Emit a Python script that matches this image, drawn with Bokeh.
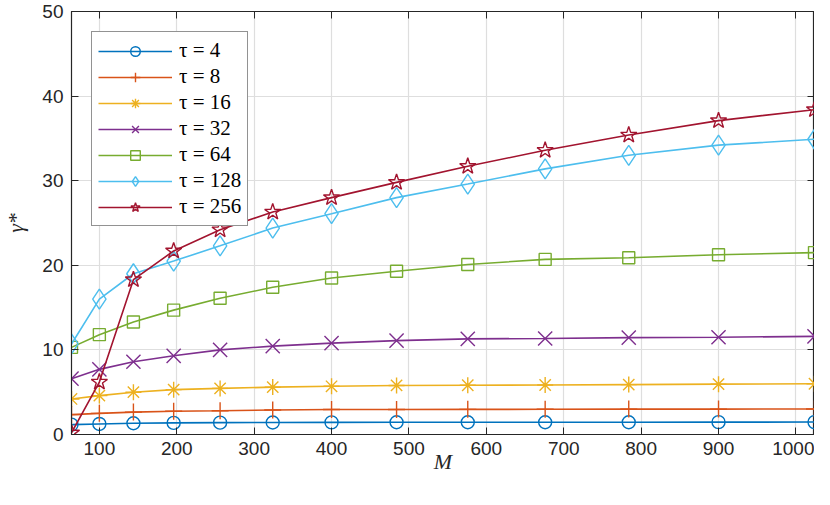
from bokeh.plotting import figure
from bokeh.models import Range1d, LinearAxis, FixedTicker, Legend, LegendItem
from bokeh.embed import file_html
from bokeh.resources import INLINE

M = [64, 100, 144, 196, 256, 324, 400, 484, 576, 676, 784, 900, 1024]
t4 = [1.17, 1.25, 1.33, 1.37, 1.4, 1.42, 1.43, 1.45, 1.45, 1.45, 1.45, 1.46, 1.47]
t8 = [2.35, 2.5, 2.65, 2.75, 2.8, 2.9, 2.95, 2.95, 2.97, 2.98, 3.0, 3.0, 3.02]
t16 = [4.2, 4.6, 5.0, 5.3, 5.45, 5.6, 5.7, 5.8, 5.82, 5.85, 5.9, 5.95, 6.0]
t32 = [6.6, 7.7, 8.6, 9.3, 10.0, 10.45, 10.8, 11.1, 11.3, 11.35, 11.45, 11.5, 11.6]
t64 = [10.3, 11.8, 13.3, 14.7, 16.1, 17.4, 18.5, 19.3, 20.1, 20.7, 20.9, 21.25, 21.5]
t128 = [10.7, 16.0, 19.0, 20.5, 22.3, 24.4, 26.1, 28.0, 29.6, 31.4, 33.0, 34.2, 34.9]
t256 = [0.2, 6.2, 18.3, 21.7, 24.2, 26.3, 28.0, 29.8, 31.7, 33.6, 35.4, 37.1, 38.4]

labels = ["τ = 4", "τ = 8", "τ = 16", "τ = 32", "τ = 64", "τ = 128", "τ = 256"]
series = [t4, t8, t16, t32, t64, t128, t256]
colors = ["#0072BD", "#D95319", "#EDB120", "#7E2F8E", "#77AC30", "#4DBEEE", "#A2142F"]
markers = ["circle", "cross", "asterisk", "x", "square", "diamond", "star"]
msizes = [13, 17, 16, 20, 12, 20, 17]

xticks = [100, 200, 300, 400, 500, 600, 700, 800, 900, 1000]
yticks = [0, 10, 20, 30, 40, 50]

p = figure(width=814, height=481, output_backend="svg", toolbar_location=None,
           x_range=Range1d(64, 1024), y_range=Range1d(0, 50),
           min_border_left=62, min_border_right=0, min_border_top=11, min_border_bottom=47,
           x_axis_label="M", y_axis_label="γ*")
p.background_fill_color = "white"
p.border_fill_color = "white"
p.outline_line_color = "#262626"
p.outline_line_width = 1.2

axcol = "#262626"
for ax in p.xaxis + p.yaxis:
    ax.axis_line_color = axcol
    ax.major_tick_line_color = axcol
    ax.major_tick_in = 7
    ax.major_tick_out = 0
    ax.minor_tick_line_color = None
    ax.major_label_text_font = "Liberation Sans"
    ax.major_label_text_font_size = "19px"
    ax.major_label_text_color = axcol
    ax.axis_label_text_font = "Liberation Serif"
    ax.axis_label_text_font_style = "italic"
    ax.axis_label_text_font_size = "22px"
    ax.axis_label_text_color = axcol
p.xaxis.ticker = FixedTicker(ticks=xticks)
p.yaxis.ticker = FixedTicker(ticks=yticks)
p.xaxis.major_label_standoff = 7
p.yaxis.major_label_standoff = 8
p.xaxis.axis_label_standoff = -9
p.yaxis.axis_label_standoff = 11

for loc, tk in (("right", yticks), ("above", xticks)):
    ax = LinearAxis(ticker=FixedTicker(ticks=tk))
    ax.axis_line_color = axcol
    ax.major_tick_line_color = axcol
    ax.major_tick_in = 7
    ax.major_tick_out = 0
    ax.minor_tick_line_color = None
    ax.major_label_overrides = {t: "" for t in tk}
    ax.major_label_standoff = 0
    p.add_layout(ax, loc)

p.xgrid.ticker = FixedTicker(ticks=xticks)
p.ygrid.ticker = FixedTicker(ticks=yticks)
p.grid.grid_line_color = "#dedede"
p.grid.grid_line_width = 1.2

items = []
for lab, ys, c, mk, ms in zip(labels, series, colors, markers, msizes):
    r1 = p.line(M, ys, line_color=c, line_width=1.6)
    r2 = p.scatter(M, ys, marker=mk, size=ms, line_color=c, line_width=1.4, fill_alpha=0)
    items.append(LegendItem(label=lab, renderers=[r1, r2]))

leg = Legend(items=items, location="top_left")
leg.border_line_color = "#262626"
leg.border_line_width = 1.2
leg.background_fill_color = "white"
leg.background_fill_alpha = 1
leg.label_text_font = "Liberation Serif"
leg.label_text_font_size = "21px"
leg.label_text_color = "#000000"
leg.glyph_width = 74
leg.glyph_height = 24
leg.label_height = 20
leg.spacing = 1
leg.padding = 6
leg.margin = 20
leg.label_standoff = 7
p.add_layout(leg, "center")

open("out.html", "w").write(file_html(p, INLINE))
